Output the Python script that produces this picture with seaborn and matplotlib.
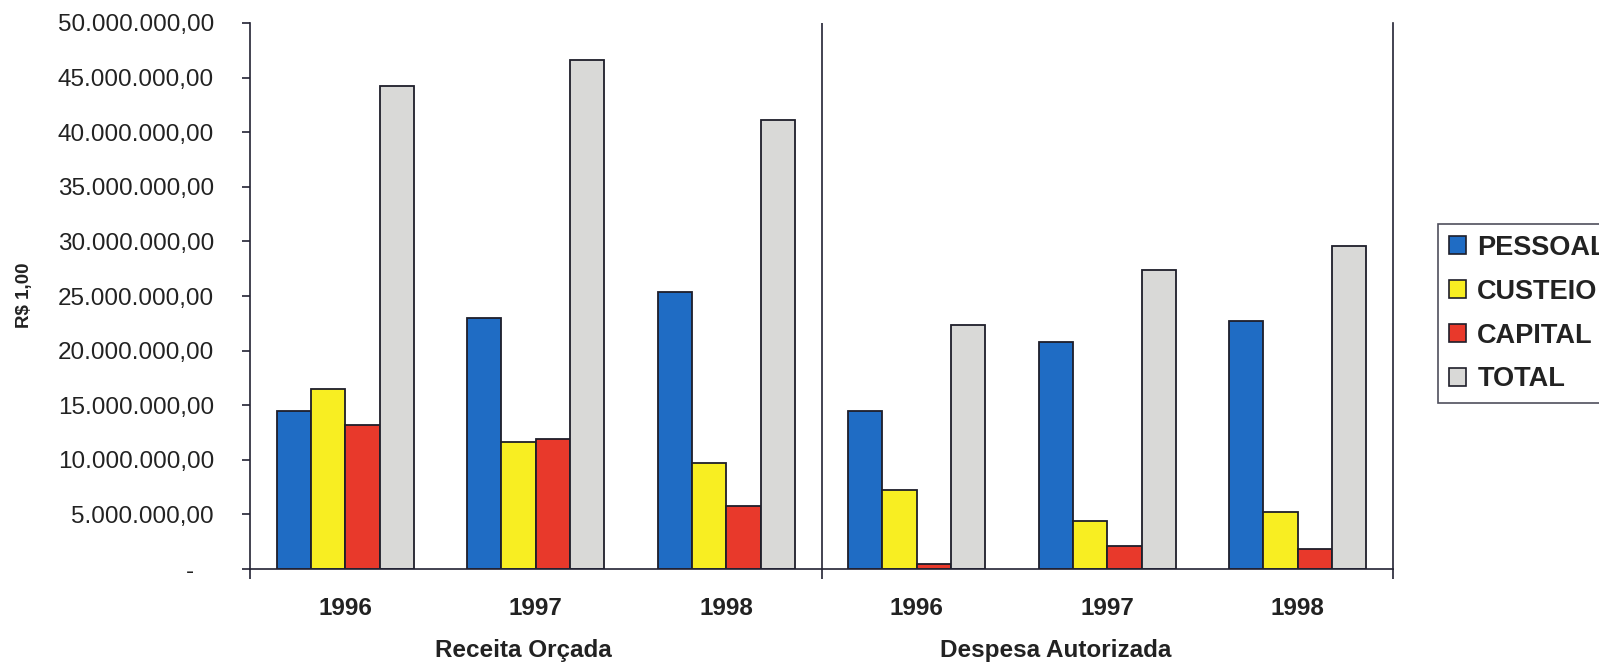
import pandas as pd
import matplotlib.pyplot as plt
import seaborn as sns
from matplotlib.ticker import FuncFormatter, FixedLocator
from matplotlib.patches import Patch

# ============================================================
# DATA
# ============================================================

grupos = ['Receita Orçada', 'Despesa Autorizada']
anos = ['1996', '1997', '1998']
series = ['PESSOAL', 'CUSTEIO', 'CAPITAL', 'TOTAL']

pessoal = [14.5e6, 22.95e6, 25.4e6, 14.5e6, 20.8e6, 22.7e6]
custeio = [16.45e6, 11.65e6, 9.75e6, 7.25e6, 4.4e6, 5.25e6]
capital = [13.15e6, 11.9e6, 5.75e6, 0.5e6, 2.15e6, 1.8e6]
total = [44.25e6, 46.6e6, 41.15e6, 22.3e6, 27.4e6, 29.6e6]

cores = ['#1f6cc4', '#f8ee22', '#e8392b', '#d9d9d7']

# ============================================================
# SETUP
# ============================================================

categorias = [g + ' ' + a for g in grupos for a in anos]
valores = {'PESSOAL': pessoal, 'CUSTEIO': custeio,
           'CAPITAL': capital, 'TOTAL': total}
df = pd.DataFrame([
    {'categoria': c, 'serie': s, 'valor': valores[s][i]}
    for s in series for i, c in enumerate(categorias)
])

sns.set_style('white')
plt.rcParams['font.family'] = ['Liberation Sans', 'DejaVu Sans']

fig = plt.figure(figsize=(15.99, 6.62), dpi=100)
ax = fig.add_axes([250 / 1599, 1 - 569 / 662,
                   (1393 - 250) / 1599, (569 - 23) / 662])

sns.barplot(data=df, x='categoria', y='valor', hue='serie',
            order=categorias, hue_order=series, palette=cores,
            width=0.72, edgecolor='#1e1e2a', linewidth=1.3,
            saturation=1, ax=ax, legend=False)

ax.set_xlim(-0.5, 5.5)
ax.set_ylim(0, 50e6)
ax.set_xlabel('')
ax.set_ylabel('')


def fmt_br(v, pos):
    if v == 0:
        return '-   '
    s = f'{v:,.2f}'
    return s.replace(',', 'X').replace('.', ',').replace('X', '.')


ax.yaxis.set_major_locator(FixedLocator([i * 5e6 for i in range(11)]))
ax.yaxis.set_major_formatter(FuncFormatter(fmt_br))
ax.tick_params(axis='y', direction='out', length=6, width=1.2,
               color='#222233', pad=20, labelsize=17.5,
               labelcolor='#222222', left=True)

# year labels at group centres, tick marks only at the group boundaries
ax.set_xticks(range(6))
ax.set_xticklabels(anos * 2, fontsize=17.5, fontweight='bold',
                   color='#222222')
ax.tick_params(axis='x', which='major', length=0, pad=20)
ax.set_xticks([-0.5, 2.5, 5.5], minor=True)
ax.tick_params(axis='x', which='minor', direction='out', length=7,
               width=1.2, color='#222233', bottom=True)

for lado in ['left', 'bottom', 'right']:
    ax.spines[lado].set_color('#222233')
    ax.spines[lado].set_linewidth(1.2)
ax.spines['top'].set_visible(False)
ax.axvline(2.5, color='#222233', linewidth=1.2)

# group titles below the years
fig.text(435 / 1599, 1 - 650 / 662, grupos[0], ha='left', va='center',
         fontsize=17.5, fontweight='bold', color='#222222')
fig.text(940 / 1599, 1 - 650 / 662, grupos[1], ha='left', va='center',
         fontsize=17.5, fontweight='bold', color='#222222')

fig.text(24 / 1599, 1 - 295 / 662, 'R$ 1,00', rotation=90,
         ha='center', va='center', fontsize=13.5, fontweight='bold',
         color='#222222')

# legend (runs off the right edge like the original)
handles = [Patch(facecolor=c, edgecolor='#1e1e2a', linewidth=1.2)
           for c in cores]
leg = fig.legend(handles, series, loc='upper left',
                 bbox_to_anchor=(1438 / 1599, 1 - 224 / 662),
                 borderaxespad=0, frameon=True, fancybox=False,
                 handlelength=0.65, handleheight=0.65, handletextpad=0.4,
                 labelspacing=0.66, borderpad=0.4,
                 prop={'size': 19.5, 'weight': 'bold'})
leg.get_frame().set_edgecolor('#222233')
leg.get_frame().set_linewidth(1.2)
for t in leg.get_texts():
    t.set_color('#222222')

plt.savefig('out.png', dpi=100)
plt.close()
